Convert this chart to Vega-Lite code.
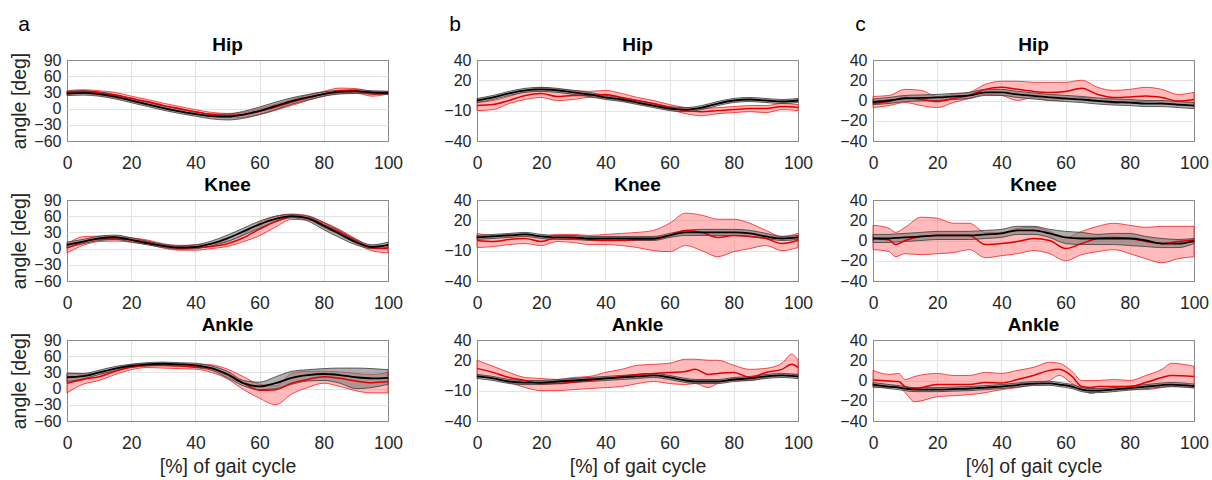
{
"$schema":"https://vega.github.io/schema/vega-lite/v6.json",
"padding":{"left":9,"top":13,"right":0,"bottom":0},
"background":"white",
"datasets":{"d":[
{"g":"a","j":"Hip","x":0,"m":28,"lo":24,"hi":32,"r":30,"rl":26,"rh":33},
{"g":"a","j":"Hip","x":5,"m":29,"lo":25,"hi":33,"r":32,"rl":28,"rh":35},
{"g":"a","j":"Hip","x":10,"m":27,"lo":23,"hi":31,"r":29,"rl":25,"rh":33},
{"g":"a","j":"Hip","x":15,"m":22,"lo":18,"hi":26,"r":25,"rl":20,"rh":30},
{"g":"a","j":"Hip","x":20,"m":15,"lo":11,"hi":19,"r":19,"rl":15,"rh":23},
{"g":"a","j":"Hip","x":25,"m":8,"lo":4,"hi":12,"r":13,"rl":9,"rh":17},
{"g":"a","j":"Hip","x":30,"m":1,"lo":-3,"hi":5,"r":6,"rl":2,"rh":10},
{"g":"a","j":"Hip","x":35,"m":-5,"lo":-9,"hi":-1,"r":0,"rl":-4,"rh":4},
{"g":"a","j":"Hip","x":40,"m":-10,"lo":-14,"hi":-6,"r":-6,"rl":-10,"rh":-2},
{"g":"a","j":"Hip","x":45,"m":-14,"lo":-19,"hi":-10,"r":-11,"rl":-15,"rh":-7},
{"g":"a","j":"Hip","x":50,"m":-15,"lo":-21,"hi":-10,"r":-13,"rl":-17,"rh":-9},
{"g":"a","j":"Hip","x":55,"m":-11,"lo":-18,"hi":-5,"r":-11,"rl":-16,"rh":-7},
{"g":"a","j":"Hip","x":60,"m":-4,"lo":-11,"hi":3,"r":-5,"rl":-11,"rh":0},
{"g":"a","j":"Hip","x":65,"m":5,"lo":-2,"hi":12,"r":3,"rl":-3,"rh":8},
{"g":"a","j":"Hip","x":70,"m":14,"lo":8,"hi":20,"r":12,"rl":6,"rh":17},
{"g":"a","j":"Hip","x":75,"m":21,"lo":16,"hi":26,"r":20,"rl":15,"rh":25},
{"g":"a","j":"Hip","x":80,"m":27,"lo":23,"hi":31,"r":27,"rl":23,"rh":32},
{"g":"a","j":"Hip","x":85,"m":31,"lo":27,"hi":34,"r":33,"rl":28,"rh":38},
{"g":"a","j":"Hip","x":90,"m":32,"lo":28,"hi":35,"r":33,"rl":29,"rh":37},
{"g":"a","j":"Hip","x":95,"m":30,"lo":27,"hi":33,"r":27,"rl":23,"rh":32},
{"g":"a","j":"Hip","x":100,"m":29,"lo":26,"hi":32,"r":29,"rl":27,"rh":32},

{"g":"a","j":"Knee","x":0,"m":7,"lo":2,"hi":12,"r":1,"rl":-8,"rh":8},
{"g":"a","j":"Knee","x":5,"m":13,"lo":9,"hi":17,"r":12,"rl":6,"rh":22},
{"g":"a","j":"Knee","x":10,"m":19,"lo":15,"hi":23,"r":18,"rl":13,"rh":23},
{"g":"a","j":"Knee","x":15,"m":21,"lo":17,"hi":25,"r":18,"rl":14,"rh":22},
{"g":"a","j":"Knee","x":20,"m":16,"lo":12,"hi":20,"r":16,"rl":12,"rh":20},
{"g":"a","j":"Knee","x":25,"m":10,"lo":7,"hi":14,"r":12,"rl":8,"rh":16},
{"g":"a","j":"Knee","x":30,"m":5,"lo":2,"hi":8,"r":5,"rl":1,"rh":9},
{"g":"a","j":"Knee","x":35,"m":2,"lo":-1,"hi":5,"r":1,"rl":-3,"rh":6},
{"g":"a","j":"Knee","x":40,"m":3,"lo":0,"hi":7,"r":2,"rl":-3,"rh":7},
{"g":"a","j":"Knee","x":45,"m":9,"lo":5,"hi":14,"r":4,"rl":0,"rh":9},
{"g":"a","j":"Knee","x":50,"m":19,"lo":13,"hi":25,"r":9,"rl":4,"rh":14},
{"g":"a","j":"Knee","x":55,"m":32,"lo":25,"hi":38,"r":20,"rl":13,"rh":27},
{"g":"a","j":"Knee","x":60,"m":45,"lo":38,"hi":51,"r":36,"rl":24,"rh":48},
{"g":"a","j":"Knee","x":65,"m":55,"lo":50,"hi":60,"r":50,"rl":40,"rh":60},
{"g":"a","j":"Knee","x":70,"m":60,"lo":57,"hi":63,"r":59,"rl":54,"rh":64},
{"g":"a","j":"Knee","x":75,"m":56,"lo":51,"hi":60,"r":57,"rl":53,"rh":61},
{"g":"a","j":"Knee","x":80,"m":42,"lo":35,"hi":48,"r":44,"rl":39,"rh":49},
{"g":"a","j":"Knee","x":85,"m":27,"lo":20,"hi":33,"r":30,"rl":25,"rh":35},
{"g":"a","j":"Knee","x":90,"m":12,"lo":7,"hi":17,"r":14,"rl":10,"rh":18},
{"g":"a","j":"Knee","x":95,"m":3,"lo":0,"hi":7,"r":1,"rl":-4,"rh":5},
{"g":"a","j":"Knee","x":100,"m":7,"lo":2,"hi":12,"r":0,"rl":-8,"rh":5},

{"g":"a","j":"Ankle","x":0,"m":21,"lo":13,"hi":29,"r":10,"rl":-8,"rh":28},
{"g":"a","j":"Ankle","x":5,"m":23,"lo":18,"hi":28,"r":17,"rl":8,"rh":27},
{"g":"a","j":"Ankle","x":10,"m":30,"lo":26,"hi":34,"r":22,"rl":15,"rh":28},
{"g":"a","j":"Ankle","x":15,"m":37,"lo":33,"hi":41,"r":32,"rl":26,"rh":38},
{"g":"a","j":"Ankle","x":20,"m":42,"lo":39,"hi":45,"r":40,"rl":35,"rh":45},
{"g":"a","j":"Ankle","x":25,"m":45,"lo":42,"hi":48,"r":43,"rl":39,"rh":47},
{"g":"a","j":"Ankle","x":30,"m":46,"lo":43,"hi":49,"r":43,"rl":38,"rh":47},
{"g":"a","j":"Ankle","x":35,"m":45,"lo":42,"hi":48,"r":42,"rl":37,"rh":46},
{"g":"a","j":"Ankle","x":40,"m":43,"lo":39,"hi":47,"r":40,"rl":36,"rh":45},
{"g":"a","j":"Ankle","x":45,"m":38,"lo":34,"hi":42,"r":37,"rl":30,"rh":44},
{"g":"a","j":"Ankle","x":50,"m":26,"lo":20,"hi":32,"r":27,"rl":18,"rh":36},
{"g":"a","j":"Ankle","x":55,"m":10,"lo":5,"hi":15,"r":10,"rl":-2,"rh":22},
{"g":"a","j":"Ankle","x":60,"m":4,"lo":-2,"hi":12,"r":-3,"rl":-18,"rh":8},
{"g":"a","j":"Ankle","x":65,"m":10,"lo":0,"hi":22,"r":-2,"rl":-30,"rh":5},
{"g":"a","j":"Ankle","x":70,"m":20,"lo":8,"hi":32,"r":10,"rl":-10,"rh":28},
{"g":"a","j":"Ankle","x":75,"m":25,"lo":14,"hi":35,"r":17,"rl":2,"rh":32},
{"g":"a","j":"Ankle","x":80,"m":27,"lo":15,"hi":37,"r":22,"rl":10,"rh":32},
{"g":"a","j":"Ankle","x":85,"m":25,"lo":10,"hi":38,"r":19,"rl":4,"rh":31},
{"g":"a","j":"Ankle","x":90,"m":21,"lo":0,"hi":38,"r":14,"rl":-4,"rh":28},
{"g":"a","j":"Ankle","x":95,"m":19,"lo":2,"hi":37,"r":11,"rl":-8,"rh":26},
{"g":"a","j":"Ankle","x":100,"m":20,"lo":8,"hi":35,"r":13,"rl":-8,"rh":30},

{"g":"b","j":"Hip","x":0,"m":0,"lo":-2,"hi":2,"r":-5,"rl":-10,"rh":-2},
{"g":"b","j":"Hip","x":5,"m":3,"lo":1,"hi":5,"r":-4,"rl":-9,"rh":0},
{"g":"b","j":"Hip","x":10,"m":7,"lo":5,"hi":9,"r":0,"rl":-3,"rh":4},
{"g":"b","j":"Hip","x":15,"m":10,"lo":8,"hi":12,"r":5,"rl":1,"rh":9},
{"g":"b","j":"Hip","x":20,"m":11,"lo":9,"hi":13,"r":7,"rl":3,"rh":13},
{"g":"b","j":"Hip","x":25,"m":10,"lo":8,"hi":12,"r":4,"rl":0,"rh":11},
{"g":"b","j":"Hip","x":30,"m":8,"lo":6,"hi":10,"r":5,"rl":1,"rh":10},
{"g":"b","j":"Hip","x":35,"m":6,"lo":4,"hi":8,"r":5,"rl":3,"rh":9},
{"g":"b","j":"Hip","x":40,"m":3,"lo":1,"hi":5,"r":6,"rl":2,"rh":10},
{"g":"b","j":"Hip","x":45,"m":1,"lo":-1,"hi":3,"r":3,"rl":0,"rh":7},
{"g":"b","j":"Hip","x":50,"m":-2,"lo":-4,"hi":0,"r":0,"rl":-3,"rh":3},
{"g":"b","j":"Hip","x":55,"m":-5,"lo":-7,"hi":-3,"r":-3,"rl":-6,"rh":0},
{"g":"b","j":"Hip","x":60,"m":-8,"lo":-10,"hi":-6,"r":-7,"rl":-9,"rh":-4},
{"g":"b","j":"Hip","x":65,"m":-9,"lo":-11,"hi":-7,"r":-10,"rl":-13,"rh":-7},
{"g":"b","j":"Hip","x":70,"m":-7,"lo":-9,"hi":-5,"r":-11,"rl":-15,"rh":-8},
{"g":"b","j":"Hip","x":75,"m":-3,"lo":-5,"hi":-1,"r":-10,"rl":-13,"rh":-7},
{"g":"b","j":"Hip","x":80,"m":0,"lo":-2,"hi":2,"r":-9,"rl":-12,"rh":-6},
{"g":"b","j":"Hip","x":85,"m":1,"lo":-1,"hi":3,"r":-8,"rl":-11,"rh":-5},
{"g":"b","j":"Hip","x":90,"m":0,"lo":-2,"hi":2,"r":-8,"rl":-12,"rh":-5},
{"g":"b","j":"Hip","x":95,"m":-1,"lo":-3,"hi":1,"r":-6,"rl":-9,"rh":-3},
{"g":"b","j":"Hip","x":100,"m":0,"lo":-2,"hi":2,"r":-7,"rl":-10,"rh":-4},

{"g":"b","j":"Knee","x":0,"m":3,"lo":1,"hi":5,"r":0,"rl":-7,"rh":7},
{"g":"b","j":"Knee","x":5,"m":4,"lo":2,"hi":6,"r":-1,"rl":-6,"rh":5},
{"g":"b","j":"Knee","x":10,"m":5,"lo":3,"hi":7,"r":1,"rl":-4,"rh":6},
{"g":"b","j":"Knee","x":15,"m":6,"lo":4,"hi":8,"r":2,"rl":-3,"rh":7},
{"g":"b","j":"Knee","x":20,"m":4,"lo":2,"hi":6,"r":-1,"rl":-5,"rh":4},
{"g":"b","j":"Knee","x":25,"m":3,"lo":1,"hi":5,"r":3,"rl":-1,"rh":6},
{"g":"b","j":"Knee","x":30,"m":3,"lo":1,"hi":5,"r":2,"rl":-2,"rh":6},
{"g":"b","j":"Knee","x":35,"m":2,"lo":0,"hi":4,"r":1,"rl":-4,"rh":5},
{"g":"b","j":"Knee","x":40,"m":2,"lo":0,"hi":4,"r":0,"rl":-4,"rh":6},
{"g":"b","j":"Knee","x":45,"m":2,"lo":0,"hi":4,"r":0,"rl":-5,"rh":7},
{"g":"b","j":"Knee","x":50,"m":2,"lo":0,"hi":4,"r":1,"rl":-7,"rh":8},
{"g":"b","j":"Knee","x":55,"m":2,"lo":0,"hi":4,"r":1,"rl":-10,"rh":10},
{"g":"b","j":"Knee","x":60,"m":5,"lo":3,"hi":7,"r":5,"rl":-11,"rh":17},
{"g":"b","j":"Knee","x":65,"m":8,"lo":5,"hi":10,"r":10,"rl":-5,"rh":27},
{"g":"b","j":"Knee","x":70,"m":8,"lo":5,"hi":11,"r":8,"rl":-10,"rh":25},
{"g":"b","j":"Knee","x":75,"m":8,"lo":5,"hi":11,"r":3,"rl":-16,"rh":21},
{"g":"b","j":"Knee","x":80,"m":8,"lo":5,"hi":11,"r":5,"rl":-11,"rh":21},
{"g":"b","j":"Knee","x":85,"m":7,"lo":4,"hi":10,"r":4,"rl":-8,"rh":17},
{"g":"b","j":"Knee","x":90,"m":4,"lo":2,"hi":7,"r":2,"rl":-5,"rh":10},
{"g":"b","j":"Knee","x":95,"m":2,"lo":0,"hi":4,"r":-3,"rl":-10,"rh":4},
{"g":"b","j":"Knee","x":100,"m":3,"lo":1,"hi":5,"r":0,"rl":-7,"rh":7},

{"g":"b","j":"Ankle","x":0,"m":4,"lo":2,"hi":6,"r":12,"rl":6,"rh":20},
{"g":"b","j":"Ankle","x":5,"m":2,"lo":0,"hi":4,"r":8,"rl":2,"rh":14},
{"g":"b","j":"Ankle","x":10,"m":-1,"lo":-3,"hi":1,"r":3,"rl":-2,"rh":8},
{"g":"b","j":"Ankle","x":15,"m":-2,"lo":-4,"hi":0,"r":0,"rl":-7,"rh":3},
{"g":"b","j":"Ankle","x":20,"m":-2,"lo":-4,"hi":0,"r":-3,"rl":-10,"rh":2},
{"g":"b","j":"Ankle","x":25,"m":-1,"lo":-3,"hi":1,"r":-3,"rl":-10,"rh":1},
{"g":"b","j":"Ankle","x":30,"m":0,"lo":-2,"hi":2,"r":-1.5,"rl":-9,"rh":3},
{"g":"b","j":"Ankle","x":35,"m":1,"lo":-1,"hi":3,"r":0,"rl":-8,"rh":4},
{"g":"b","j":"Ankle","x":40,"m":2,"lo":0,"hi":4,"r":2,"rl":-7,"rh":8},
{"g":"b","j":"Ankle","x":45,"m":3,"lo":1,"hi":5,"r":4,"rl":-6,"rh":11},
{"g":"b","j":"Ankle","x":50,"m":4,"lo":2,"hi":6,"r":6,"rl":-3,"rh":15},
{"g":"b","j":"Ankle","x":55,"m":5,"lo":3,"hi":7,"r":7,"rl":-1,"rh":16},
{"g":"b","j":"Ankle","x":60,"m":3,"lo":1,"hi":5,"r":8,"rl":-3,"rh":17},
{"g":"b","j":"Ankle","x":65,"m":0,"lo":-2,"hi":2,"r":9,"rl":-4,"rh":21},
{"g":"b","j":"Ankle","x":68,"m":-1,"lo":-3,"hi":1,"r":11,"rl":-3,"rh":21},
{"g":"b","j":"Ankle","x":72,"m":-1,"lo":-3,"hi":1,"r":6,"rl":-7,"rh":20},
{"g":"b","j":"Ankle","x":75,"m":-1,"lo":-3,"hi":1,"r":7,"rl":-3,"rh":20},
{"g":"b","j":"Ankle","x":80,"m":1,"lo":-1,"hi":3,"r":8,"rl":0,"rh":15},
{"g":"b","j":"Ankle","x":85,"m":2,"lo":0,"hi":4,"r":3,"rl":0,"rh":11},
{"g":"b","j":"Ankle","x":90,"m":4,"lo":2,"hi":6,"r":8,"rl":3,"rh":12},
{"g":"b","j":"Ankle","x":95,"m":5,"lo":3,"hi":7,"r":11,"rl":5,"rh":17},
{"g":"b","j":"Ankle","x":98,"m":4.5,"lo":2.5,"hi":6.5,"r":16,"rl":6,"rh":26},
{"g":"b","j":"Ankle","x":100,"m":4,"lo":2,"hi":6,"r":13,"rl":6,"rh":20},

{"g":"c","j":"Hip","x":0,"m":-1.5,"lo":-4,"hi":1.5,"r":-3,"rl":-7,"rh":4},
{"g":"c","j":"Hip","x":5,"m":0,"lo":-3,"hi":3,"r":-1,"rl":-5,"rh":5},
{"g":"c","j":"Hip","x":10,"m":2,"lo":-1,"hi":5,"r":3,"rl":-2,"rh":11},
{"g":"c","j":"Hip","x":15,"m":2.5,"lo":-0.5,"hi":5.5,"r":1,"rl":-5,"rh":10},
{"g":"c","j":"Hip","x":20,"m":3,"lo":0,"hi":6,"r":-1,"rl":-7,"rh":4},
{"g":"c","j":"Hip","x":25,"m":4,"lo":1,"hi":7,"r":2,"rl":-2,"rh":6},
{"g":"c","j":"Hip","x":30,"m":5,"lo":2,"hi":8,"r":5,"rl":2,"rh":8},
{"g":"c","j":"Hip","x":35,"m":8,"lo":5,"hi":11,"r":11,"rl":6,"rh":16},
{"g":"c","j":"Hip","x":40,"m":8,"lo":5,"hi":11,"r":13,"rl":5,"rh":19},
{"g":"c","j":"Hip","x":45,"m":6,"lo":3,"hi":9,"r":11,"rl":0,"rh":19},
{"g":"c","j":"Hip","x":50,"m":4.5,"lo":1.5,"hi":7.5,"r":9,"rl":3,"rh":18},
{"g":"c","j":"Hip","x":55,"m":3,"lo":0,"hi":6,"r":8,"rl":0,"rh":18},
{"g":"c","j":"Hip","x":60,"m":2,"lo":-1,"hi":5,"r":9,"rl":1,"rh":18},
{"g":"c","j":"Hip","x":65,"m":1,"lo":-2,"hi":4,"r":12,"rl":3,"rh":20},
{"g":"c","j":"Hip","x":70,"m":-0.5,"lo":-3.5,"hi":2.5,"r":6,"rl":0,"rh":13},
{"g":"c","j":"Hip","x":75,"m":-1.5,"lo":-4.5,"hi":1.5,"r":3,"rl":-3,"rh":10},
{"g":"c","j":"Hip","x":80,"m":-2,"lo":-5,"hi":1,"r":3.5,"rl":-1,"rh":11},
{"g":"c","j":"Hip","x":85,"m":-3,"lo":-6,"hi":0,"r":4.5,"rl":-1,"rh":13},
{"g":"c","j":"Hip","x":90,"m":-3,"lo":-6,"hi":0,"r":3,"rl":-2,"rh":11},
{"g":"c","j":"Hip","x":95,"m":-4,"lo":-7,"hi":-1,"r":-0.5,"rl":-5,"rh":6},
{"g":"c","j":"Hip","x":100,"m":-5,"lo":-8,"hi":-2,"r":1,"rl":-5,"rh":8},

{"g":"c","j":"Knee","x":0,"m":2,"lo":-2,"hi":6,"r":2,"rl":-9,"rh":15},
{"g":"c","j":"Knee","x":5,"m":2,"lo":-2,"hi":6,"r":0.5,"rl":-11,"rh":12},
{"g":"c","j":"Knee","x":7,"m":2.5,"lo":-1.5,"hi":6.5,"r":-4,"rl":-16,"rh":8},
{"g":"c","j":"Knee","x":10,"m":3,"lo":-1,"hi":7,"r":0,"rl":-13,"rh":13},
{"g":"c","j":"Knee","x":15,"m":4,"lo":0,"hi":8,"r":4,"rl":-14,"rh":23},
{"g":"c","j":"Knee","x":20,"m":5,"lo":1,"hi":9,"r":5,"rl":-13,"rh":22},
{"g":"c","j":"Knee","x":25,"m":5,"lo":1,"hi":9,"r":5,"rl":-12,"rh":17},
{"g":"c","j":"Knee","x":30,"m":5,"lo":1,"hi":9,"r":5,"rl":-9,"rh":17},
{"g":"c","j":"Knee","x":35,"m":6,"lo":2,"hi":10,"r":-4,"rl":-17,"rh":8},
{"g":"c","j":"Knee","x":40,"m":7,"lo":3,"hi":11,"r":-3,"rl":-15,"rh":8},
{"g":"c","j":"Knee","x":45,"m":10,"lo":6,"hi":14,"r":-1,"rl":-13,"rh":12},
{"g":"c","j":"Knee","x":50,"m":10,"lo":6,"hi":14,"r":2,"rl":-10,"rh":13},
{"g":"c","j":"Knee","x":55,"m":7,"lo":3,"hi":11,"r":0,"rl":-13,"rh":9},
{"g":"c","j":"Knee","x":60,"m":3,"lo":-3,"hi":9,"r":-8,"rl":-20,"rh":3},
{"g":"c","j":"Knee","x":65,"m":2,"lo":-4,"hi":8,"r":-3,"rl":-14,"rh":9},
{"g":"c","j":"Knee","x":70,"m":2,"lo":-4,"hi":6,"r":2,"rl":-11,"rh":14},
{"g":"c","j":"Knee","x":75,"m":2,"lo":-4,"hi":7,"r":3,"rl":-9,"rh":17},
{"g":"c","j":"Knee","x":80,"m":2,"lo":-5,"hi":7,"r":2,"rl":-13,"rh":15},
{"g":"c","j":"Knee","x":85,"m":0,"lo":-6,"hi":4,"r":-1,"rl":-18,"rh":13},
{"g":"c","j":"Knee","x":90,"m":-3,"lo":-7,"hi":2,"r":-3,"rl":-22,"rh":14},
{"g":"c","j":"Knee","x":95,"m":-3,"lo":-7,"hi":1,"r":-1,"rl":-18,"rh":14},
{"g":"c","j":"Knee","x":100,"m":-0.5,"lo":-3,"hi":2,"r":0.5,"rl":-16,"rh":14},

{"g":"c","j":"Ankle","x":0,"m":-4,"lo":-6,"hi":-2,"r":0.5,"rl":-7,"rh":10},
{"g":"c","j":"Ankle","x":5,"m":-6,"lo":-8,"hi":-4,"r":-0.5,"rl":-7,"rh":6},
{"g":"c","j":"Ankle","x":8,"m":-7,"lo":-9,"hi":-5,"r":-1,"rl":-6,"rh":7},
{"g":"c","j":"Ankle","x":10,"m":-8,"lo":-10,"hi":-6,"r":-6,"rl":-12,"rh":1},
{"g":"c","j":"Ankle","x":13,"m":-9,"lo":-11,"hi":-7,"r":-8,"rl":-21,"rh":4},
{"g":"c","j":"Ankle","x":20,"m":-9,"lo":-11,"hi":-7,"r":-4,"rl":-16,"rh":7},
{"g":"c","j":"Ankle","x":25,"m":-8.5,"lo":-10.5,"hi":-6.5,"r":-4,"rl":-15,"rh":5},
{"g":"c","j":"Ankle","x":30,"m":-8,"lo":-10,"hi":-6,"r":-4,"rl":-14,"rh":5},
{"g":"c","j":"Ankle","x":35,"m":-7,"lo":-9,"hi":-5,"r":-2,"rl":-12,"rh":8},
{"g":"c","j":"Ankle","x":40,"m":-6,"lo":-8,"hi":-4,"r":-2.5,"rl":-9,"rh":7},
{"g":"c","j":"Ankle","x":45,"m":-4.5,"lo":-6.5,"hi":-2.5,"r":1,"rl":-7,"rh":10},
{"g":"c","j":"Ankle","x":50,"m":-3,"lo":-5,"hi":-1,"r":5,"rl":-4,"rh":13},
{"g":"c","j":"Ankle","x":55,"m":-2.8,"lo":-4.8,"hi":-0.8,"r":10,"rl":0,"rh":18},
{"g":"c","j":"Ankle","x":58,"m":-4,"lo":-6,"hi":-2,"r":11,"rl":5,"rh":17},
{"g":"c","j":"Ankle","x":62,"m":-6,"lo":-8,"hi":-4,"r":4,"rl":-3,"rh":9},
{"g":"c","j":"Ankle","x":65,"m":-9,"lo":-11,"hi":-7,"r":-6,"rl":-8,"rh":0},
{"g":"c","j":"Ankle","x":68,"m":-10,"lo":-12,"hi":-8,"r":-7,"rl":-13,"rh":0},
{"g":"c","j":"Ankle","x":70,"m":-10,"lo":-12,"hi":-8,"r":-6,"rl":-11,"rh":0},
{"g":"c","j":"Ankle","x":75,"m":-9,"lo":-11,"hi":-7,"r":-6,"rl":-9,"rh":1},
{"g":"c","j":"Ankle","x":80,"m":-7.5,"lo":-9.5,"hi":-5.5,"r":-6,"rl":-9,"rh":0},
{"g":"c","j":"Ankle","x":85,"m":-6,"lo":-8,"hi":-4,"r":-2,"rl":-9,"rh":5},
{"g":"c","j":"Ankle","x":90,"m":-4.5,"lo":-6.5,"hi":-2.5,"r":3,"rl":-7,"rh":11},
{"g":"c","j":"Ankle","x":93,"m":-4,"lo":-6,"hi":-2,"r":5,"rl":-6,"rh":17},
{"g":"c","j":"Ankle","x":100,"m":-5.5,"lo":-7.5,"hi":-3.5,"r":4,"rl":-7,"rh":14}
]},
"data":{"name":"d"},
"config":{
 "view":{"stroke":"#8a8a8a","strokeWidth":1},
 "axis":{"labelFont":"Liberation Sans","labelFontSize":17.5,"labelColor":"#262626","labelOverlap":false,"tickCount":12,"titleFont":"Liberation Sans","titleFontSize":19.5,"titleFontWeight":"normal","titleColor":"#262626","domain":false,"ticks":false,"gridWidth":1},
 "axisX":{"labelPadding":13,"titlePadding":6,"labelFlush":false,"labelOverlap":false,"tickCount":12,"gridColor":{"condition":{"test":"datum.value===0 || datum.value===100","value":"#8a8a8a"},"value":"#e3e3e3"}},
 "axisY":{"labelPadding":6,"titlePadding":4,"labelFontSize":16,"labelOverlap":false,"tickCount":12,"gridColor":{"condition":{"test":"datum.value===40 || datum.value===-40 || datum.value===90 || datum.value===-60","value":"#8a8a8a"},"value":"#e3e3e3"}},
 "title":{"font":"Liberation Sans","fontSize":19,"fontWeight":"bold","color":"#000000","offset":-3},
 "line":{"interpolate":"monotone"},
 "area":{"interpolate":"monotone"}
},
"spacing":39,
"hconcat":[
{"title":{"text":"a","anchor":"start","frame":"bounds","fontSize":21,"fontWeight":"normal","offset":1,"dx":9},
 "spacing":3,
 "vconcat":[
  {"width":321,"height":81,"title":"Hip","transform":[{"filter":"datum.g==='a' && datum.j==='Hip'"}],
   "encoding":{"x":{"field":"x","type":"quantitative","scale":{"domain":[0,100],"nice":false},"axis":{"values":[0,20,40,60,80,100],"tickCount":12,"title":null,"labelOverlap":false}}},
   "layer":[
    {"mark":{"type":"area","fill":"#f77","fillOpacity":0.5,"stroke":"#ee2222","strokeWidth":0.8},"encoding":{"y":{"field":"rl","type":"quantitative","scale":{"domain":[-60,90],"nice":false,"zero":false},"axis":{"values":[-60,-30,0,30,60,90],"tickCount":12,"title":"angle [deg]","labelOverlap":false}},"y2":{"field":"rh"}}},
    {"mark":{"type":"area","fill":"#7a7a7a","fillOpacity":0.6,"stroke":"#3a3a3a","strokeWidth":0.8},"encoding":{"y":{"field":"lo","type":"quantitative"},"y2":{"field":"hi"}}},
    {"mark":{"type":"line","color":"#e00000","strokeWidth":1.5},"encoding":{"y":{"field":"r","type":"quantitative"}}},
    {"mark":{"type":"line","color":"#000000","strokeWidth":1.8},"encoding":{"y":{"field":"m","type":"quantitative"}}}
   ]},
  {"width":321,"height":81,"title":"Knee","transform":[{"filter":"datum.g==='a' && datum.j==='Knee'"}],
   "encoding":{"x":{"field":"x","type":"quantitative","scale":{"domain":[0,100],"nice":false},"axis":{"values":[0,20,40,60,80,100],"tickCount":12,"title":null,"labelOverlap":false}}},
   "layer":[
    {"mark":{"type":"area","fill":"#f77","fillOpacity":0.5,"stroke":"#ee2222","strokeWidth":0.8},"encoding":{"y":{"field":"rl","type":"quantitative","scale":{"domain":[-60,90],"nice":false,"zero":false},"axis":{"values":[-60,-30,0,30,60,90],"tickCount":12,"title":"angle [deg]","labelOverlap":false}},"y2":{"field":"rh"}}},
    {"mark":{"type":"area","fill":"#7a7a7a","fillOpacity":0.6,"stroke":"#3a3a3a","strokeWidth":0.8},"encoding":{"y":{"field":"lo","type":"quantitative"},"y2":{"field":"hi"}}},
    {"mark":{"type":"line","color":"#e00000","strokeWidth":1.5},"encoding":{"y":{"field":"r","type":"quantitative"}}},
    {"mark":{"type":"line","color":"#000000","strokeWidth":1.8},"encoding":{"y":{"field":"m","type":"quantitative"}}}
   ]},
  {"width":321,"height":81,"title":"Ankle","transform":[{"filter":"datum.g==='a' && datum.j==='Ankle'"}],
   "encoding":{"x":{"field":"x","type":"quantitative","scale":{"domain":[0,100],"nice":false},"axis":{"values":[0,20,40,60,80,100],"tickCount":12,"title":"[%] of gait cycle","labelOverlap":false}}},
   "layer":[
    {"mark":{"type":"area","fill":"#f77","fillOpacity":0.5,"stroke":"#ee2222","strokeWidth":0.8},"encoding":{"y":{"field":"rl","type":"quantitative","scale":{"domain":[-60,90],"nice":false,"zero":false},"axis":{"values":[-60,-30,0,30,60,90],"tickCount":12,"title":"angle [deg]","labelOverlap":false}},"y2":{"field":"rh"}}},
    {"mark":{"type":"area","fill":"#7a7a7a","fillOpacity":0.6,"stroke":"#3a3a3a","strokeWidth":0.8},"encoding":{"y":{"field":"lo","type":"quantitative"},"y2":{"field":"hi"}}},
    {"mark":{"type":"line","color":"#e00000","strokeWidth":1.5},"encoding":{"y":{"field":"r","type":"quantitative"}}},
    {"mark":{"type":"line","color":"#000000","strokeWidth":1.8},"encoding":{"y":{"field":"m","type":"quantitative"}}}
   ]}
 ]},
{"spacing":25,
 "hconcat":[
 {"title":{"text":"b","anchor":"start","frame":"bounds","fontSize":21,"fontWeight":"normal","offset":1,"dx":6},
  "spacing":3,
  "vconcat":[
  {"width":321,"height":81,"title":"Hip","transform":[{"filter":"datum.g==='b' && datum.j==='Hip'"}],
   "encoding":{"x":{"field":"x","type":"quantitative","scale":{"domain":[0,100],"nice":false},"axis":{"values":[0,20,40,60,80,100],"tickCount":12,"title":null,"labelOverlap":false}}},
   "layer":[
    {"mark":{"type":"area","fill":"#f77","fillOpacity":0.5,"stroke":"#ee2222","strokeWidth":0.8},"encoding":{"y":{"field":"rl","type":"quantitative","scale":{"domain":[-40,40],"nice":false,"zero":false},"axis":{"values":[-40,-10,20,40],"tickCount":12,"title":null,"labelOverlap":false}},"y2":{"field":"rh"}}},
    {"mark":{"type":"area","fill":"#7a7a7a","fillOpacity":0.6,"stroke":"#3a3a3a","strokeWidth":0.8},"encoding":{"y":{"field":"lo","type":"quantitative"},"y2":{"field":"hi"}}},
    {"mark":{"type":"line","color":"#e00000","strokeWidth":1.5},"encoding":{"y":{"field":"r","type":"quantitative"}}},
    {"mark":{"type":"line","color":"#000000","strokeWidth":1.8},"encoding":{"y":{"field":"m","type":"quantitative"}}}
   ]},
  {"width":321,"height":81,"title":"Knee","transform":[{"filter":"datum.g==='b' && datum.j==='Knee'"}],
   "encoding":{"x":{"field":"x","type":"quantitative","scale":{"domain":[0,100],"nice":false},"axis":{"values":[0,20,40,60,80,100],"tickCount":12,"title":null,"labelOverlap":false}}},
   "layer":[
    {"mark":{"type":"area","fill":"#f77","fillOpacity":0.5,"stroke":"#ee2222","strokeWidth":0.8},"encoding":{"y":{"field":"rl","type":"quantitative","scale":{"domain":[-40,40],"nice":false,"zero":false},"axis":{"values":[-40,-10,20,40],"tickCount":12,"title":null,"labelOverlap":false}},"y2":{"field":"rh"}}},
    {"mark":{"type":"area","fill":"#7a7a7a","fillOpacity":0.6,"stroke":"#3a3a3a","strokeWidth":0.8},"encoding":{"y":{"field":"lo","type":"quantitative"},"y2":{"field":"hi"}}},
    {"mark":{"type":"line","color":"#e00000","strokeWidth":1.5},"encoding":{"y":{"field":"r","type":"quantitative"}}},
    {"mark":{"type":"line","color":"#000000","strokeWidth":1.8},"encoding":{"y":{"field":"m","type":"quantitative"}}}
   ]},
  {"width":321,"height":81,"title":"Ankle","transform":[{"filter":"datum.g==='b' && datum.j==='Ankle'"}],
   "encoding":{"x":{"field":"x","type":"quantitative","scale":{"domain":[0,100],"nice":false},"axis":{"values":[0,20,40,60,80,100],"tickCount":12,"title":"[%] of gait cycle","labelOverlap":false}}},
   "layer":[
    {"mark":{"type":"area","fill":"#f77","fillOpacity":0.5,"stroke":"#ee2222","strokeWidth":0.8},"encoding":{"y":{"field":"rl","type":"quantitative","scale":{"domain":[-40,40],"nice":false,"zero":false},"axis":{"values":[-40,-10,20,40],"tickCount":12,"title":null,"labelOverlap":false}},"y2":{"field":"rh"}}},
    {"mark":{"type":"area","fill":"#7a7a7a","fillOpacity":0.6,"stroke":"#3a3a3a","strokeWidth":0.8},"encoding":{"y":{"field":"lo","type":"quantitative"},"y2":{"field":"hi"}}},
    {"mark":{"type":"line","color":"#e00000","strokeWidth":1.5},"encoding":{"y":{"field":"r","type":"quantitative"}}},
    {"mark":{"type":"line","color":"#000000","strokeWidth":1.8},"encoding":{"y":{"field":"m","type":"quantitative"}}}
   ]}
  ]},
 {"title":{"text":"c","anchor":"start","frame":"bounds","fontSize":21,"fontWeight":"normal","offset":1,"dx":16},
  "spacing":3,
  "vconcat":[
  {"width":321,"height":81,"title":"Hip","transform":[{"filter":"datum.g==='c' && datum.j==='Hip'"}],
   "encoding":{"x":{"field":"x","type":"quantitative","scale":{"domain":[0,100],"nice":false},"axis":{"values":[0,20,40,60,80,100],"tickCount":12,"title":null,"labelOverlap":false}}},
   "layer":[
    {"mark":{"type":"area","fill":"#f77","fillOpacity":0.5,"stroke":"#ee2222","strokeWidth":0.8},"encoding":{"y":{"field":"rl","type":"quantitative","scale":{"domain":[-40,40],"nice":false,"zero":false},"axis":{"values":[-40,-20,0,20,40],"tickCount":12,"title":null,"labelOverlap":false}},"y2":{"field":"rh"}}},
    {"mark":{"type":"area","fill":"#7a7a7a","fillOpacity":0.6,"stroke":"#3a3a3a","strokeWidth":0.8},"encoding":{"y":{"field":"lo","type":"quantitative"},"y2":{"field":"hi"}}},
    {"mark":{"type":"line","color":"#e00000","strokeWidth":1.5},"encoding":{"y":{"field":"r","type":"quantitative"}}},
    {"mark":{"type":"line","color":"#000000","strokeWidth":1.8},"encoding":{"y":{"field":"m","type":"quantitative"}}}
   ]},
  {"width":321,"height":81,"title":"Knee","transform":[{"filter":"datum.g==='c' && datum.j==='Knee'"}],
   "encoding":{"x":{"field":"x","type":"quantitative","scale":{"domain":[0,100],"nice":false},"axis":{"values":[0,20,40,60,80,100],"tickCount":12,"title":null,"labelOverlap":false}}},
   "layer":[
    {"mark":{"type":"area","fill":"#f77","fillOpacity":0.5,"stroke":"#ee2222","strokeWidth":0.8},"encoding":{"y":{"field":"rl","type":"quantitative","scale":{"domain":[-40,40],"nice":false,"zero":false},"axis":{"values":[-40,-20,0,20,40],"tickCount":12,"title":null,"labelOverlap":false}},"y2":{"field":"rh"}}},
    {"mark":{"type":"area","fill":"#7a7a7a","fillOpacity":0.6,"stroke":"#3a3a3a","strokeWidth":0.8},"encoding":{"y":{"field":"lo","type":"quantitative"},"y2":{"field":"hi"}}},
    {"mark":{"type":"line","color":"#e00000","strokeWidth":1.5},"encoding":{"y":{"field":"r","type":"quantitative"}}},
    {"mark":{"type":"line","color":"#000000","strokeWidth":1.8},"encoding":{"y":{"field":"m","type":"quantitative"}}}
   ]},
  {"width":321,"height":81,"title":"Ankle","transform":[{"filter":"datum.g==='c' && datum.j==='Ankle'"}],
   "encoding":{"x":{"field":"x","type":"quantitative","scale":{"domain":[0,100],"nice":false},"axis":{"values":[0,20,40,60,80,100],"tickCount":12,"title":"[%] of gait cycle","labelOverlap":false}}},
   "layer":[
    {"mark":{"type":"area","fill":"#f77","fillOpacity":0.5,"stroke":"#ee2222","strokeWidth":0.8},"encoding":{"y":{"field":"rl","type":"quantitative","scale":{"domain":[-40,40],"nice":false,"zero":false},"axis":{"values":[-40,-20,0,20,40],"tickCount":12,"title":null,"labelOverlap":false}},"y2":{"field":"rh"}}},
    {"mark":{"type":"area","fill":"#7a7a7a","fillOpacity":0.6,"stroke":"#3a3a3a","strokeWidth":0.8},"encoding":{"y":{"field":"lo","type":"quantitative"},"y2":{"field":"hi"}}},
    {"mark":{"type":"line","color":"#e00000","strokeWidth":1.5},"encoding":{"y":{"field":"r","type":"quantitative"}}},
    {"mark":{"type":"line","color":"#000000","strokeWidth":1.8},"encoding":{"y":{"field":"m","type":"quantitative"}}}
   ]}
  ]}
 ]}
]
}
